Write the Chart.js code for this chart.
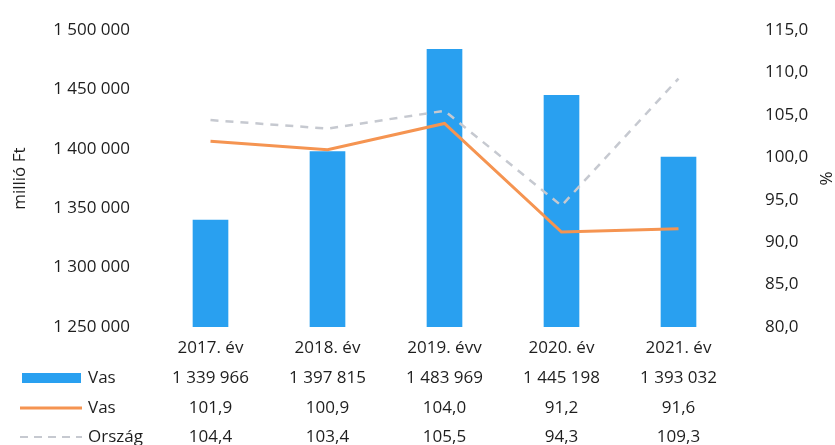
<!DOCTYPE html>
<html>
<head>
<meta charset="utf-8">
<script src="https://cdn.jsdelivr.net/npm/chart.js@4"></script>
<style>
  body { margin: 0; background: #fff; }
  #wrap { width: 835px; height: 445px; }
</style>
</head>
<body>
<div id="wrap"><canvas id="myChart" width="835" height="445"></canvas></div>
<script>
var years = ['2017. év', '2018. év', '2019. évv', '2020. év', '2021. év'];
var vasErtek = [1339966, 1397815, 1483969, 1445198, 1393032];
var vasIndex = [101.9, 100.9, 104.0, 91.2, 91.6];
var orszagIndex = [104.4, 103.4, 105.5, 94.3, 109.3];
var leftTicks = [1250000, 1300000, 1350000, 1400000, 1450000, 1500000];
var rightTicks = [80, 85, 90, 95, 100, 105, 110, 115];

var font = 'Open Sans, Lato, sans-serif';
var blue = '#29a0f0';
var orange = '#f59451';
var grey = '#c6c9d0';
var txt = '#1e1e1e';

function fmtInt(v) {
  return String(Math.round(v)).replace(/\B(?=(\d{3})+(?!\d))/g, ' ');
}
function fmtDec(v) {
  return v.toFixed(1).replace('.', ',');
}

// data table under the x axis
var tablePlugin = {
  id: 'dataTable',
  afterDraw: function (chart) {
    var c = chart.ctx;
    var x = chart.scales.x;
    var rows = [
      { y: 378, vals: vasErtek.map(fmtInt), label: 'Vas', type: 'bar' },
      { y: 408, vals: vasIndex.map(fmtDec), label: 'Vas', type: 'line' },
      { y: 437, vals: orszagIndex.map(fmtDec), label: 'Ország', type: 'dash' }
    ];
    c.save();
    c.font = '17px ' + font;
    c.textBaseline = 'middle';
    rows.forEach(function (r) {
      if (r.type == 'bar') {
        c.fillStyle = blue;
        c.fillRect(22, r.y - 5, 59, 10);
      } else if (r.type == 'line') {
        c.strokeStyle = orange;
        c.lineWidth = 3;
        c.beginPath(); c.moveTo(20, r.y); c.lineTo(82, r.y); c.stroke();
      } else {
        c.strokeStyle = grey;
        c.lineWidth = 2;
        c.setLineDash([8, 6]);
        c.beginPath(); c.moveTo(20, r.y); c.lineTo(82, r.y); c.stroke();
        c.setLineDash([]);
      }
      c.fillStyle = txt;
      c.textAlign = 'left';
      c.fillText(r.label, 88, r.y);
      c.textAlign = 'center';
      r.vals.forEach(function (v, i) {
        c.fillText(v, x.getPixelForValue(i), r.y);
      });
    });
    c.restore();
  }
};

var ctx = document.getElementById('myChart').getContext('2d');

var myChart = new Chart(ctx, {
  type: 'bar',
  data: {
    labels: years,
    datasets: [
      {
        type: 'line',
        label: 'Ország',
        data: orszagIndex,
        yAxisID: 'y1',
        borderColor: grey,
        borderWidth: 2.5,
        borderDash: [8, 7],
        pointRadius: 0,
        tension: 0,
        order: 1
      },
      {
        type: 'line',
        label: 'Vas',
        data: vasIndex,
        yAxisID: 'y1',
        borderColor: orange,
        borderWidth: 3,
        pointRadius: 0,
        tension: 0,
        order: 0
      },
      {
        label: 'Vas',
        data: vasErtek,
        yAxisID: 'y',
        backgroundColor: blue,
        barThickness: 35,
        order: 2
      }
    ]
  },
  options: {
    responsive: false,
    animation: false,
    layout: { padding: { top: 22, bottom: 88, left: 0, right: 0 } },
    plugins: {
      legend: { display: false },
      tooltip: { enabled: false }
    },
    scales: {
      x: {
        grid: { display: false },
        border: { display: false },
        ticks: { color: txt, font: { family: font, size: 17 }, padding: 3 },
        afterFit: function (s) { s.height = 30; }
      },
      y: {
        position: 'left',
        min: 1250000,
        max: 1500000,
        grid: { display: false },
        border: { display: false },
        afterBuildTicks: function (s) { s.ticks = leftTicks.map(function (v) { return { value: v }; }); },
        ticks: {
          color: txt,
          font: { family: font, size: 17 },
          padding: 14,
          callback: function (v) { return fmtInt(v); }
        },
        title: { display: true, text: 'millió Ft', color: txt, font: { family: font, size: 17 }, padding: { top: 10, bottom: 0 } },
        afterFit: function (s) { s.width = 152; }
      },
      y1: {
        position: 'right',
        min: 80,
        max: 115,
        grid: { display: false },
        border: { display: false },
        afterBuildTicks: function (s) { s.ticks = rightTicks.map(function (v) { return { value: v }; }); },
        ticks: {
          color: txt,
          font: { family: font, size: 17 },
          padding: 20,
          callback: function (v) { return fmtDec(v); }
        },
        title: { display: true, text: '%', color: txt, font: { family: font, size: 17 }, padding: 0 },
        afterFit: function (s) { s.width = 98; }
      }
    }
  },
  plugins: [tablePlugin]
});
</script>
</body>
</html>
